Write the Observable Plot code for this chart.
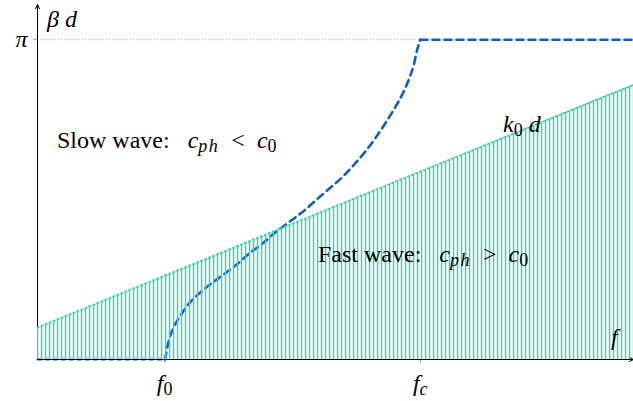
<!DOCTYPE html>
<html><head><meta charset="utf-8">
<script src="https://cdn.jsdelivr.net/npm/d3@7"></script>
<script src="https://cdn.jsdelivr.net/npm/@observablehq/plot@0.6"></script>
<style>
body{margin:0;background:#fff}
svg{display:block}
g[aria-label^="y-axis"]{color:#999}
g[aria-label^="y-axis"] text{fill:#000;font:italic 24px "Liberation Serif"}
g[aria-label^="x-axis"]{color:#999}
</style>
</head><body><div id="chart"></div>
<script>
// dispersion curve beta*d (in units of pi) vs frequency (arbitrary units 0..100)
const lowF = [0, 21.4];
const lowB = [0, 0];
const riseF = [21.4, 22.03, 22.87, 23.99, 25.39, 27.06, 28.74, 30.99, 33.22, 35.45, 37.7, 39.93, 42.17, 44.41, 46.64, 48.88, 51.12, 53.36, 55.03, 56.71, 58.39, 59.78, 61.19, 62.3, 63.14, 63.71, 64.26];
const riseB = [0, 0.059, 0.101, 0.1375, 0.174, 0.2056, 0.2313, 0.2625, 0.2938, 0.3303, 0.3616, 0.3978, 0.4291, 0.4603, 0.4969, 0.5334, 0.5697, 0.6147, 0.6509, 0.6928, 0.7397, 0.7813, 0.8281, 0.875, 0.9219, 0.9688, 1.0];
const topF = [64.26, 100];
const topB = [1, 1];
// light line k0 d
const lightF = [0, 100];
const lightB = [0.1, 0.859];
// axis ticks
const xTickValues = [21.4, 64.3];
const xTickNames = [[["f","i"],["0","sr"]], [["f","i"],["c","si"]]];
const yTickValues = [1];
const yTickNames = ["π"];
const xMax = 100, yMax = 1.11;
// annotations: segments [text, style]
const annX = [1.68, 96.3, 78.2, 3.36, 47.15];
const annY = [1.0375, 0.044, 0.709, 0.661, 0.304];
const annSegs = [
  [["β","i"],[" d","i"]],
  [["f","i"]],
  [["k","i"],["0","sr"],[" d","i"]],
  [["Slow wave:   ","r"],["c","i"],["ph","si"],["  <  ","r"],["c","i"],["0","sr"]],
  [["Fast wave:   ","r"],["c","i"],["ph","si"],["  >  ","r"],["c","i"],["0","sr"]]
];

const toRows = (F, B) => F.map((f, i) => ({f, b: B[i]}));
const teal = "#3fcfb0", blue = "#0d5fc6";
const NS = "http://www.w3.org/2000/svg";

function makeText(x, y, segs, anchor) {
  const t = document.createElementNS(NS, "text");
  t.setAttribute("x", x); t.setAttribute("y", y);
  t.setAttribute("font-family", "Liberation Serif, Times New Roman, serif");
  t.setAttribute("font-size", 24);
  t.setAttribute("fill", "#000");
  t.setAttribute("text-anchor", anchor || "start");
  t.style.whiteSpace = "pre";
  let sub = false;
  for (const [s, st] of segs) {
    const ts = document.createElementNS(NS, "tspan");
    ts.textContent = s;
    const isSub = st[0] === "s";
    if (isSub && !sub) ts.setAttribute("dy", 4);
    if (!isSub && sub) ts.setAttribute("dy", -4);
    sub = isSub;
    if (isSub) ts.setAttribute("font-size", 18);
    if (st === "si" && s.length > 1) ts.setAttribute("letter-spacing", 1.5);
    if (st.endsWith("i")) ts.setAttribute("font-style", "italic");
    t.appendChild(ts);
  }
  return t;
}

const defsMark = () => {
  const g = document.createElementNS(NS, "defs");
  g.innerHTML = `<pattern id="hatch" patternUnits="userSpaceOnUse" width="4" height="8"><rect x="0.8" y="0" width="1.5" height="8" fill="${teal}"/></pattern>`;
  return g;
};

const labelsMark = (index, scales) => {
  const g = document.createElementNS(NS, "g");
  annSegs.forEach((segs, i) => g.appendChild(makeText(scales.x(annX[i]), scales.y(annY[i]), segs)));
  xTickNames.forEach((segs, i) => g.appendChild(makeText(scales.x(xTickValues[i]), scales.y(-0.1), segs, "middle")));
  return g;
};

const dashed = {x: "f", y: "b", stroke: blue, strokeWidth: 2.6, strokeDasharray: "7 5"};

const chart = Plot.plot({
  width: 633, height: 401,
  marginLeft: 37, marginRight: 0, marginTop: 4, marginBottom: 42,
  x: {domain: [0, xMax], ticks: xTickValues, tickSize: 4, tickFormat: () => "", label: null},
  y: {domain: [0, yMax], ticks: yTickValues, tickSize: 4, tickFormat: (d, i) => yTickNames[i] ?? "π", tickPadding: 6, label: null},
  marks: [
    defsMark,
    Plot.ruleY(yTickValues, {stroke: "#aaa", strokeDasharray: "1 2", strokeWidth: 1}),
    Plot.line(toRows(lowF, lowB), {...dashed, strokeWidth: 1.8, strokeDasharray: "4 4"}),
    Plot.arrow([{}], {x1: 0, y1: 0, x2: 0, y2: yMax, stroke: "#000", strokeWidth: 1, headLength: 7, headAngle: 50}),
    Plot.arrow([{}], {x1: 0, y1: 0, x2: xMax, y2: 0, stroke: "#000", strokeWidth: 1, headLength: 7, headAngle: 50}),
    Plot.line(toRows(riseF, riseB), {...dashed, curve: "monotone-x"}),
    Plot.line(toRows(topF, topB), dashed),
    Plot.areaY(toRows(lightF, lightB), {x: "f", y: "b", fill: "url(#hatch)"}),
    Plot.line(toRows(lightF, lightB), {x: "f", y: "b", stroke: teal, strokeWidth: 1.8, strokeDasharray: "1.5 2.8"}),
    labelsMark
  ]
});
document.getElementById("chart").appendChild(chart);
</script>
</body></html>
